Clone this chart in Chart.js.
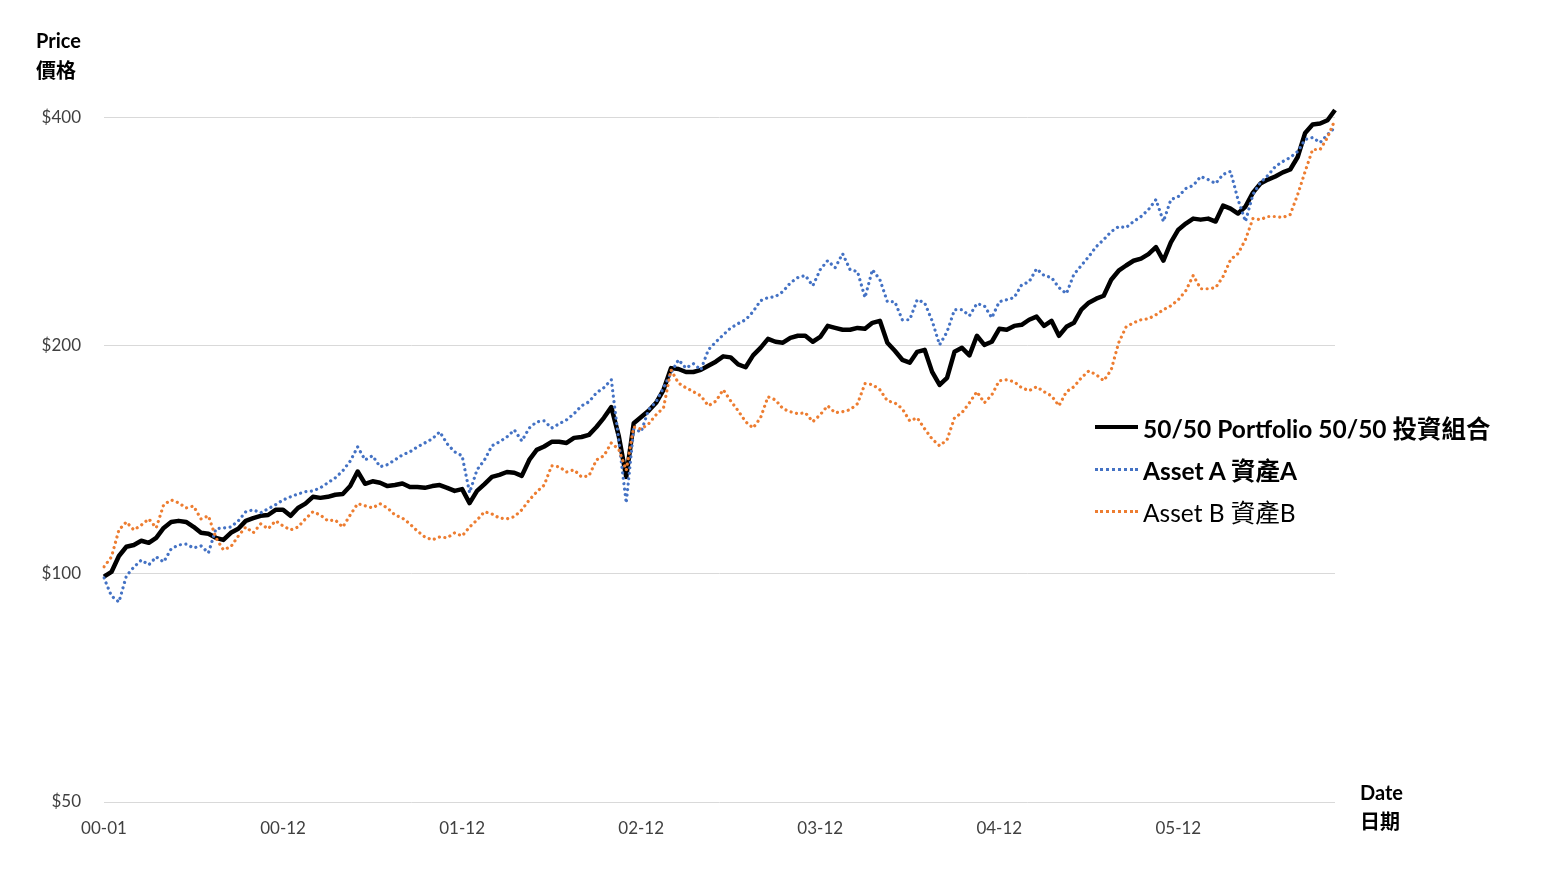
<!DOCTYPE html>
<html>
<head>
<meta charset="utf-8">
<script src="https://cdn.jsdelivr.net/npm/chart.js@4.4.0/dist/chart.umd.min.js"></script>
<style>
  body { margin: 0; background: #fff; }
  #wrap { position: relative; width: 1542px; height: 883px; font-family: Lato, 'Noto Sans CJK TC', sans-serif; color: #000; }
  #chart { position: absolute; left: 0; top: 0; }
  .axis-title { position: absolute; font-weight: bold; font-size: 20px; line-height: 30px; }
  .legend { position: absolute; left: 1095px; top: 406px; font-size: 24.5px; }
  .legend-row { height: 42px; display: flex; align-items: center; white-space: nowrap; }
  .swatch { width: 43px; height: 0; margin-right: 5px; }
</style>
</head>
<body>
<div id="wrap">
  <canvas id="chart" width="1542" height="883"></canvas>
  <div class="axis-title" style="left:36px; top:25px;">Price<br>價格</div>
  <div class="axis-title" style="left:1360px; top:778px; line-height:29px;">Date<br>日期</div>
  <div class="legend">
    <div class="legend-row"><div class="swatch" style="border-top:4px solid #000;"></div><b>50/50 Portfolio 50/50 投資組合</b></div>
    <div class="legend-row"><div class="swatch" style="border-top:3px dotted #4472C4;"></div><b>Asset A 資產A</b></div>
    <div class="legend-row"><div class="swatch" style="border-top:3px dotted #ED7D31;"></div>Asset B 資產B</div>
  </div>
</div>
<script>
// tick labels on the date axis, one every 24 samples (~250 trading days)
const tickLabels = ['00-01', '00-12', '01-12', '02-12', '03-12', '04-12', '05-12'];
const priceTicks = [50, 100, 200, 400];

// semi-monthly samples
const portfolio = [
  99.2, 100.6, 105.6, 108.6, 109.2, 110.6, 109.9, 111.6, 115.0, 117.1,
  117.5, 117.1, 115.4, 113.3, 113.0, 111.6, 110.9, 113.3, 114.7, 117.5,
  118.5, 119.3, 119.6, 121.5, 121.5, 119.3, 122.2, 123.8, 126.4, 126.0,
  126.4, 127.2, 127.5, 130.6, 136.5, 131.5, 132.5, 131.9, 130.6, 131.0,
  131.6, 130.2, 130.2, 129.9, 130.6, 131.0, 129.9, 128.7, 129.4, 124.0,
  128.7, 131.4, 134.3, 135.1, 136.3, 136.0, 134.7, 141.4, 145.8, 147.3,
  149.4, 149.4, 148.9, 151.2, 151.6, 152.6, 156.3, 160.7, 166.0, 152.0,
  134.3, 158.1, 161.1, 164.2, 168.2, 175.0, 186.9, 186.4, 184.7, 184.7,
  185.9, 188.2, 190.6, 193.7, 193.1, 189.0, 187.4, 194.3, 198.8, 204.3,
  202.5, 201.9, 204.9, 206.2, 206.2, 202.5, 205.5, 212.5, 211.2, 210.0,
  210.0, 211.2, 210.6, 214.5, 215.8, 201.9, 197.0, 191.7, 190.0, 196.4,
  197.6, 184.8, 177.6, 181.5, 196.4, 198.8, 194.3, 206.2, 200.6, 202.5,
  210.6, 210.0, 212.5, 213.2, 216.5, 218.6, 212.5, 215.8, 206.2, 211.9,
  214.5, 223.2, 228.0, 230.8, 232.9, 244.5, 251.3, 255.3, 259.0, 260.7,
  264.3, 270.0, 259.1, 273.9, 284.7, 290.0, 294.4, 293.5, 294.4, 291.8,
  306.3, 303.5, 299.0, 305.4, 318.6, 327.5, 331.5, 334.6, 338.8, 341.8,
  355.0, 382.0, 391.8, 393.0, 397.0, 409.5
];
const assetA = [
  98.8, 93.5, 91.8, 99.4, 102.1, 104.3, 102.8, 105.3, 103.7, 107.9,
  109.2, 109.5, 108.2, 108.9, 106.6, 114.7, 115.0, 115.3, 117.5, 120.8,
  121.5, 120.4, 121.9, 123.4, 125.2, 126.4, 127.5, 128.4, 128.7, 129.9,
  131.9, 133.9, 136.8, 140.9, 147.1, 141.4, 143.2, 138.5, 139.4, 141.4,
  143.6, 144.9, 147.1, 148.9, 150.8, 154.0, 148.5, 144.9, 143.2, 128.0,
  137.2, 141.4, 147.6, 149.4, 151.6, 154.9, 149.8, 155.8, 158.8, 159.2,
  155.8, 157.8, 159.7, 162.7, 166.7, 168.7, 173.4, 176.1, 180.4, 150.0,
  124.0, 155.3, 154.0, 164.7, 168.7, 176.1, 184.2, 191.7, 186.9, 189.5,
  185.9, 197.6, 202.3, 206.8, 211.2, 214.0, 216.5, 221.9, 229.4, 231.6,
  232.3, 235.8, 242.2, 246.1, 247.7, 240.0, 252.1, 259.1, 253.6, 264.7,
  252.1, 250.6, 231.6, 252.1, 244.5, 228.7, 228.7, 216.5, 216.5, 230.1,
  227.9, 215.8, 200.6, 208.7, 223.2, 223.2, 219.1, 227.4, 225.9, 217.8,
  228.7, 230.1, 231.6, 240.7, 243.0, 252.8, 247.7, 246.1, 238.7, 234.4,
  248.5, 255.3, 262.3, 270.4, 276.2, 283.0, 287.3, 286.5, 291.8, 296.3,
  302.6, 311.9, 291.8, 311.9, 314.8, 322.6, 325.6, 334.6, 331.5, 327.5,
  336.7, 339.8, 311.9, 291.8, 316.8, 328.5, 335.6, 344.9, 350.2, 354.5,
  361.0, 374.4, 376.7, 370.9, 380.2, 388.4
];
const assetB = [
  102.2, 105.3, 114.3, 117.1, 114.3, 116.0, 118.2, 115.0, 123.4, 125.2,
  124.1, 122.2, 122.9, 118.2, 119.3, 111.6, 107.6, 108.6, 112.2, 115.3,
  113.3, 116.4, 114.7, 117.5, 115.7, 114.3, 115.3, 118.2, 120.8, 119.6,
  117.5, 117.8, 115.3, 119.6, 123.8, 123.0, 122.2, 123.8, 122.2, 119.6,
  118.5, 116.4, 113.9, 111.9, 110.9, 111.9, 111.6, 113.3, 112.2, 115.3,
  117.8, 120.8, 120.0, 118.5, 118.2, 119.0, 121.5, 125.2, 128.3, 131.0,
  138.9, 138.5, 136.3, 137.2, 134.3, 134.7, 141.4, 143.2, 148.9, 146.0,
  137.0, 156.3, 155.3, 157.8, 162.2, 165.7, 185.9, 178.6, 176.1, 174.0,
  171.8, 166.7, 169.0, 175.0, 169.2, 164.2, 158.8, 155.8, 160.7, 171.3,
  169.7, 165.2, 163.7, 162.7, 163.2, 158.8, 162.2, 166.7, 163.2, 163.7,
  164.7, 167.7, 178.3, 177.8, 175.0, 169.2, 168.2, 165.2, 159.2, 160.7,
  155.4, 150.7, 147.6, 150.3, 160.7, 163.2, 168.2, 174.0, 168.2, 172.3,
  179.9, 180.4, 179.3, 176.1, 174.5, 176.6, 174.0, 171.8, 166.7, 174.0,
  176.6, 181.5, 185.3, 183.2, 179.9, 185.9, 201.9, 211.9, 214.5, 216.5,
  217.2, 219.8, 223.2, 225.9, 230.1, 236.5, 247.7, 237.9, 237.9, 238.7,
  246.9, 259.9, 264.7, 276.2, 294.4, 293.5, 296.3, 296.3, 295.4, 298.1,
  316.8, 339.8, 363.2, 363.2, 376.7, 397.6
];

const categories = portfolio.map((_, i) => (i % 24 === 0 ? tickLabels[i / 24] : ''));

const dotted = {
  borderWidth: 3.2,
  borderDash: [0.01, 5.5],
  borderCapStyle: 'round',
  pointRadius: 0,
  tension: 0,
  fill: false,
};

new Chart(document.getElementById('chart'), {
  type: 'line',
  data: {
    labels: categories,
    datasets: [
      { label: '50/50 Portfolio 50/50 投資組合', data: portfolio, borderColor: '#000', borderWidth: 4.5,
        borderJoinStyle: 'round', pointRadius: 0, tension: 0, fill: false, order: 3 },
      { label: 'Asset A 資產A', data: assetA, borderColor: '#4472C4', ...dotted, order: 2 },
      { label: 'Asset B 資產B', data: assetB, borderColor: '#ED7D31', ...dotted, order: 1 },
    ],
  },
  options: {
    responsive: false,
    animation: false,
    layout: { padding: { left: 0, top: 79, right: 207, bottom: 0 } },
    plugins: { legend: { display: false }, tooltip: { enabled: false } },
    scales: {
      x: {
        grid: { display: false, drawTicks: false },
        border: { display: false },
        ticks: {
          autoSkip: false,
          maxRotation: 0,
          padding: 16,
          color: '#404040',
          font: { family: 'Lato', size: 17 },
          callback: (v, i) => categories[i],
        },
        afterFit: (s) => { s.height = 81; },
      },
      y: {
        type: 'logarithmic',
        min: 50,
        max: 450,
        grid: { color: '#d9d9d9', lineWidth: 1, drawTicks: false },
        border: { display: false },
        ticks: {
          padding: 23,
          color: '#404040',
          font: { family: 'Lato', size: 17 },
          callback: (v) => '$' + v,
        },
        afterBuildTicks: (s) => { s.ticks = priceTicks.map((v) => ({ value: v })); },
        afterFit: (s) => { s.width = 104; },
      },
    },
  },
});
</script>
</body>
</html>
